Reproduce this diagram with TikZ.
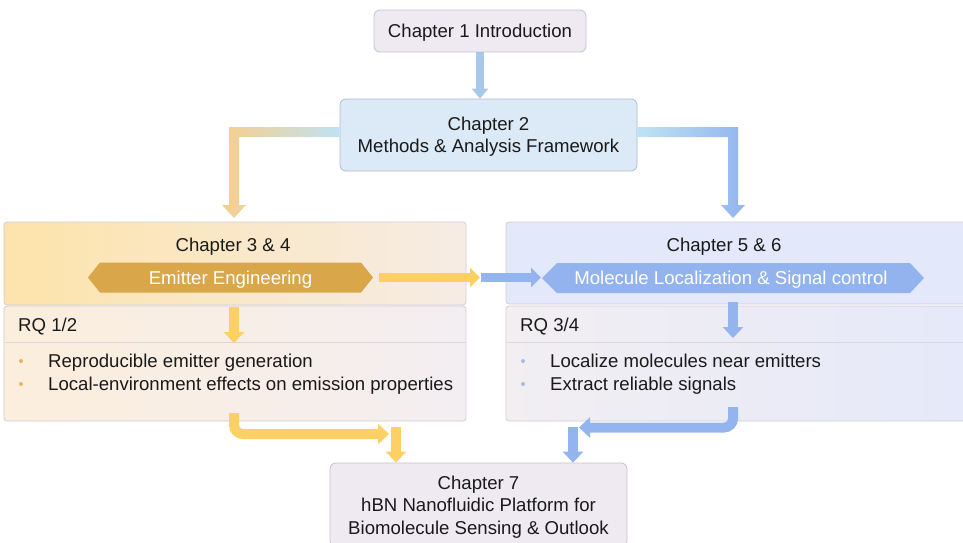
\documentclass[tikz,border=0pt]{standalone}
\usepackage{fontspec}
\setmainfont{Liberation Sans}
\usetikzlibrary{arrows.meta,calc}
\definecolor{txtc}{HTML}{1A1A1A}
\definecolor{boxAfill}{HTML}{EFEAF2}
\definecolor{boxAdraw}{HTML}{C6C0CC}
\definecolor{boxBfill}{HTML}{DCE9F6}
\definecolor{boxBdraw}{HTML}{A9BED4}
\definecolor{arrA}{HTML}{A6C8EA}
\definecolor{orangeC}{HTML}{F8CE8C}
\definecolor{lbC}{HTML}{BFE3F3}
\definecolor{blueC}{HTML}{93B4EE}
\definecolor{yellowC}{HTML}{FCD062}
\definecolor{hexLc}{HTML}{D9A64A}
\definecolor{hexRc}{HTML}{93B3EE}
\definecolor{pLtopA}{HTML}{FDE3AB}
\definecolor{pLtopB}{HTML}{F6ECE5}
\definecolor{pLbotA}{HTML}{FCEEDC}
\definecolor{pLbotB}{HTML}{F3EEF2}
\definecolor{pRtop}{HTML}{E3E9FB}
\definecolor{pRbotA}{HTML}{F2EEF2}
\definecolor{pRbotB}{HTML}{E5E9F9}
\definecolor{pdraw}{HTML}{D2CCD4}
\definecolor{divc}{HTML}{DCD6DC}
\definecolor{dotL}{HTML}{E9B45C}
\definecolor{dotR}{HTML}{A2BCEE}
\newcommand\myfs{\fontsize{18.6}{22.4}\selectfont}
\begin{document}
\begin{tikzpicture}[x=1pt,y=-1pt,
  txt/.style={inner sep=0pt, font=\myfs, text=txtc, text depth=0pt},
  ltxt/.style={txt, anchor=west, text height=13.5pt, text depth=0pt},
  chbox/.style={draw=#1, line width=0.8pt, rounded corners=6pt, align=center, font=\myfs, text=txtc, inner sep=0pt, text depth=0pt},
  panelbox/.style={draw=pdraw, line width=0.8pt, rounded corners=3pt, inner sep=0pt},
  fatarrow/.style={line width=10pt, -{Triangle[length=11pt,width=20pt]}},
]
\useasboundingbox (0,0) rectangle (963,542);

% panels
\node[panelbox, left color=pLtopA, right color=pLtopB, minimum width=462pt, minimum height=83pt] (p34t) at (235,263.5) {};
\node[panelbox, left color=pLbotA, right color=pLbotB, minimum width=462pt, minimum height=115pt] (p34b) at (235,363.5) {};
\node[panelbox, fill=pRtop, minimum width=470pt, minimum height=82pt] (p56t) at (741,263) {};
\node[panelbox, left color=pRbotA, right color=pRbotB, minimum width=470pt, minimum height=115pt] (p56b) at (741,363.5) {};
\draw[divc, line width=0.8pt] (4.5,342) -- (465.5,342);
\draw[divc, line width=0.8pt] (506.5,342) -- (963,342);

% chapter boxes
\node[chbox=boxAdraw, fill=boxAfill, minimum width=212pt, minimum height=42pt] (ch1) at (480,31) {Chapter 1 Introduction};
\node[chbox=boxBdraw, fill=boxBfill, minimum width=297pt, minimum height=72pt] (ch2) at (488.5,135) {Chapter 2\\Methods \& Analysis Framework};
\node[chbox=boxAdraw, fill=boxAfill, minimum width=297pt, minimum height=84pt] (ch7) at (478.5,505) {Chapter 7\\hBN Nanofluidic Platform for\\Biomolecule Sensing \& Outlook};

% arrow 1 -> 2
\draw[arrA, line width=8pt, -{Triangle[length=10pt,width=16pt]}] (ch1.south) -- (ch1.south |- ch2.north);

% gradient connectors from chapter 2
\shade[left color=orangeC, right color=lbC] (ch2.west |- 0,127) -- (229,127) -- (229,205) -- (222,205) -- (234,218) -- (246,205) -- (239,205) -- (239,137) -- (ch2.west |- 0,137) -- cycle;
\shade[left color=lbC, right color=blueC] (ch2.east |- 0,127) -- (738,127) -- (738,205) -- (745,205) -- (733,218) -- (721,205) -- (728,205) -- (728,137) -- (ch2.east |- 0,137) -- cycle;

% headings
\node[txt] (h34) at (233,245) {Chapter 3 \& 4};
\node[txt] (h56) at (724,245) {Chapter 5 \& 6};

% hexagon banners
\fill[hexLc] (88,277.5) -- (100,262.5) -- (361,262.5) -- (373,277.5) -- (361,292.5) -- (100,292.5) -- cycle;
\node[txt, text=white] (emit) at (230.5,277.5) {Emitter Engineering};
\fill[hexRc] (542,278) -- (557,263) -- (910,263) -- (924,278) -- (910,293) -- (557,293) -- cycle;
\node[txt, text=white] (mol) at (731,278) {Molecule Localization \& Signal control};

% middle arrows
\coordinate (ys) at (379,277.5);
\coordinate (mid) at (480,277.5);
\coordinate (bs) at (481,277.5);
\coordinate (be) at (541,277.5);
\draw[yellowC, line width=9pt, -{Triangle[length=10pt,width=19pt]}] (ys) -- (mid);
\draw[blueC, line width=9pt, -{Triangle[length=10pt,width=19pt]}] (bs) -- (be);

% down arrows inside panels
\coordinate (ld1) at (234,307);
\coordinate (ld2) at (234,343);
\coordinate (rd1) at (733,302);
\coordinate (rd2) at (733,338);
\draw[yellowC, fatarrow] (ld1) -- (ld2);
\draw[blueC, fatarrow] (rd1) -- (rd2);

% RQ labels
\node[ltxt] (rq12) at (18,325) {RQ 1/2};
\node[ltxt] (rq34) at (520,325) {RQ 3/4};

% bullets
\fill[dotL] (21,361) circle (2pt);
\fill[dotL] (21,384) circle (2pt);
\node[ltxt] (b1) at (48,361) {Reproducible emitter generation};
\node[ltxt] (b2) at (48,384) {Local-environment effects on emission properties};
\fill[dotR] (523,361) circle (2pt);
\fill[dotR] (523,384) circle (2pt);
\node[ltxt] (b3) at (550,361) {Localize molecules near emitters};
\node[ltxt] (b4) at (550,384) {Extract reliable signals};

% bottom connectors
\coordinate (lb1) at (234,413);
\coordinate (lb2) at (389,434);
\coordinate (rb1) at (733,407);
\coordinate (rb2) at (579,427.5);
\draw[yellowC, line width=10pt, rounded corners=9pt, -{Triangle[length=11pt,width=20pt]}] (lb1) |- (lb2);
\draw[blueC, line width=10pt, rounded corners=9pt, -{Triangle[length=11pt,width=20pt]}] (rb1) |- (rb2);
\coordinate (ly) at (396,427);
\coordinate (ry) at (573,427);
\draw[yellowC, fatarrow] (ly) -- (ly |- ch7.north);
\draw[blueC, fatarrow] (ry) -- (ry |- ch7.north);
\end{tikzpicture}
\end{document}
